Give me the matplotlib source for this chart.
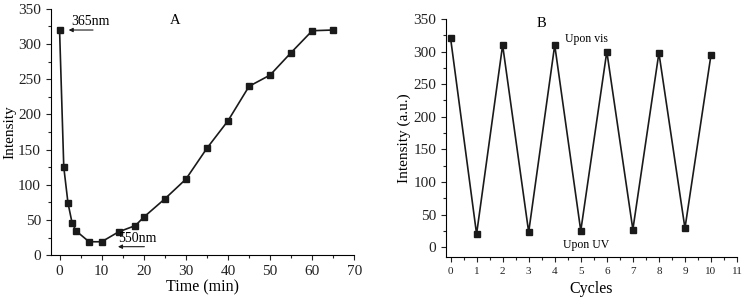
import matplotlib.pyplot as plt
from matplotlib.ticker import MultipleLocator

plt.rcParams['font.family'] = ['Liberation Serif', 'DejaVu Serif']

# panel A: intensity over time
time_min = [0, 1, 2, 3, 4, 7, 10, 14, 18, 20, 25, 30, 35, 40, 45, 50, 55, 60, 65]
intensity_a = [320, 125, 74, 45, 34, 19, 19, 33, 42, 54, 80, 108, 152, 191, 240, 256, 288, 319, 320]

# panel B: switching cycles
cycles = [0, 1, 2, 3, 4, 5, 6, 7, 8, 9, 10]
intensity_b = [321, 20, 310, 23, 310, 25, 300, 27, 298, 29, 295]

fig = plt.figure(figsize=(7.46, 2.97), dpi=100)
ax1 = fig.add_axes([0.068, 0.141, 0.407, 0.829])
ax2 = fig.add_axes([0.598, 0.135, 0.390, 0.801])

for ax in (ax1, ax2):
    ax.spines['top'].set_visible(False)
    ax.spines['right'].set_visible(False)
    ax.tick_params(which='major', direction='out', length=3.5, width=0.8, colors='#222222')
    ax.tick_params(which='minor', direction='out', length=2, width=0.8, colors='#222222')
    ax.yaxis.set_major_locator(MultipleLocator(50))
    ax.yaxis.set_minor_locator(MultipleLocator(25))

ax1.plot(time_min, intensity_a, color='#1a1a1a', lw=1.2, marker='s', ms=4.5)
ax1.set_xlim(-2.1, 70)
ax1.set_ylim(0, 350)
ax1.xaxis.set_major_locator(MultipleLocator(10))
ax1.xaxis.set_minor_locator(MultipleLocator(5))
ax1.tick_params(labelsize=11)
ax1.set_xlabel('Time (min)', fontsize=11.5, labelpad=1)
ax1.set_ylabel('Intensity', fontsize=11, labelpad=1)
ax1.text(27.5, 333, 'A', fontsize=10.5, ha='center', va='center')
ax1.annotate('', xy=(1.5, 320), xytext=(8.6, 320),
             arrowprops=dict(arrowstyle='-|>', color='#1a1a1a', lw=0.8, mutation_scale=6))
ax1.text(2.8, 323, '365nm', fontsize=10, va='bottom')
ax1.annotate('', xy=(13.2, 12), xytext=(20.8, 12),
             arrowprops=dict(arrowstyle='-|>', color='#1a1a1a', lw=0.8, mutation_scale=6))
ax1.text(14, 15, '550nm', fontsize=10, va='bottom')

ax2.plot(cycles, intensity_b, color='#1a1a1a', lw=1.2, marker='s', ms=5)
ax2.set_xlim(-0.17, 11)
ax2.set_ylim(-15, 350)
ax2.xaxis.set_major_locator(MultipleLocator(1))
ax2.xaxis.set_minor_locator(MultipleLocator(0.5))
ax2.tick_params(axis='x', labelsize=8)
ax2.tick_params(axis='y', labelsize=11)
ax2.set_xlabel('Cycles', fontsize=11.5, labelpad=4)
ax2.set_ylabel('Intensity (a.u.)', fontsize=11, labelpad=2)
ax2.text(3.5, 343, 'B', fontsize=10.5, ha='center', va='center')
ax2.text(5.2, 320, 'Upon vis', fontsize=8.5, ha='center', va='center')
ax2.text(5.2, 3, 'Upon UV', fontsize=8.5, ha='center', va='center')

fig.savefig('out.png', dpi=100)
